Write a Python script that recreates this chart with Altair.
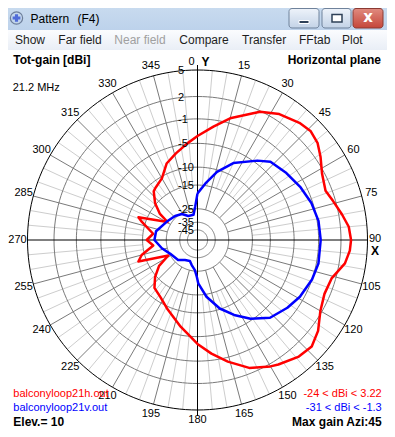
import math
import altair as alt
import pandas as pd

# ---------------- data ----------------
red_az = [0, 8, 15, 26, 33, 41, 46, 51, 56, 62, 69, 74, 80, 85, 90, 94, 99, 106, 113, 120,
          127, 133, 139, 147, 150, 158, 166, 173, 180, 191, 204, 213, 222, 229, 236, 242, 250,
          255, 263, 270, 278, 288, 291, 301, 305, 311, 318, 321, 330, 338, 346, 354]
red_db = [-3.7, -2.0, -0.3, 1.9, 2.8, 3.4, 3.6, 3.3, 2.6, 1.7, 1.2, 1.7, 2.4, 3.0, 3.2, 3.1,
          2.7, 1.5, 1.3, 1.8, 2.9, 3.5, 3.3, 2.6, 2.3, 1.3, -0.4, -2.0, -3.7, -6.6, -9.5,
          -11.2, -12.2, -14.6, -18.0, -24.0, -12.6, -14.1, -18.7, -16.4, -18.6, -13.9, -12.5,
          -23.0, -18.1, -14.6, -11.9, -11.5, -10.4, -7.8, -6.4, -4.9]

blue_az = [0, 8, 16, 25, 37, 43, 53, 63, 72, 81, 90, 101, 109, 119, 127, 137, 146, 154, 162,
           171, 179, 181, 185, 193, 200, 212, 224, 243, 257, 270, 282, 301, 317, 329, 339,
           351, 356]
blue_db = [-17.9, -14.3, -10.5, -7.3, -4.5, -3.2, -2.5, -1.8, -1.2, -0.8, -0.7, -0.7, -1.0,
           -1.6, -2.3, -3.3, -5.3, -7.6, -10.2, -14.2, -19.2, -22.0, -25.6, -28.4, -31.0,
           -29.9, -27.0, -25.4, -22.2, -19.3, -19.6, -22.6, -24.1, -25.5, -28.4, -28.6, -23.8]

ring_db = [5, 2, -1, -5, -10, -15, -25, -35, -45]
ring_text = ["5", "2", "-1", "-5", "-10", "-15", "-25", "-35", "-45"]
angle_ticks = list(range(0, 360, 15))

menu_items = ["Show", "Far field", "Near field", "Compare", "Transfer", "FFtab", "Plot"]
window_title = ["Pattern", "(F4)"]
red_file = "balconyloop21h.out"
blue_file = "balconyloop21v.out"
red_range = "-24 < dBi < 3.22"
blue_range = "-31 < dBi < -1.3"
head_left = "Tot-gain [dBi]"
head_right = "Horizontal plane"
freq_text = "21.2 MHz"
elev_text = "Elev.= 10"
maxgain_text = "Max gain Azi:45"

# ---------------- layout / scale ----------------
W, H = 379, 421
CX, CY, R = 189.5, 232.0, 170.0
TOP_DB = 5.0
K = 0.0565  # log-periodic radial scale


def rad(db):
    return math.exp(-K * (TOP_DB - db))


def pol(az, r):
    a = math.radians(az)
    return r * math.sin(a), r * math.cos(a)


xs = alt.Scale(domain=[-CX / R, (W - CX) / R], nice=False, zero=False)
ys = alt.Scale(domain=[-(H - CY) / R, CY / R], nice=False, zero=False)
X = alt.X("u:Q", scale=xs, axis=None)
Y = alt.Y("v:Q", scale=ys, axis=None)
FONT = "Liberation Sans"
ONE = pd.DataFrame({"k": [0]})

# ---------------- tables ----------------
def curve_df(azs, dbs):
    rows = []
    for i, (a, d) in enumerate(list(zip(azs, dbs)) + [(azs[0], dbs[0])]):
        u, v = pol(a, rad(d))
        rows.append({"i": i, "u": u, "v": v})
    return pd.DataFrame(rows)


red_df = curve_df(red_az, red_db)
blue_df = curve_df(blue_az, blue_db)

ring_rows = []
for d in ring_db[1:]:
    for j, a in enumerate(range(0, 362, 2)):
        u, v = pol(a, rad(d))
        ring_rows.append({"ring": str(d), "i": j, "u": u, "v": v})
ring_df = pd.DataFrame(ring_rows)
outer_rows = []
for j, a in enumerate(range(0, 362, 2)):
    u, v = pol(a, 1.0)
    outer_rows.append({"i": j, "u": u, "v": v})
outer_df = pd.DataFrame(outer_rows)

dark_rows, light_rows = [], []
for a in range(0, 360, 5):
    if a % 90 == 0:
        continue
    if a % 15 == 0:
        r0 = rad(-25)
        u, v = pol(a, r0)
        u2, v2 = pol(a, 1.0)
        dark_rows.append({"u": u, "v": v, "u2": u2, "v2": v2})
    else:
        r0 = rad(-15)
        u, v = pol(a, r0)
        u2, v2 = pol(a, 1.0)
        light_rows.append({"u": u, "v": v, "u2": u2, "v2": v2})
dark_df = pd.DataFrame(dark_rows)
light_df = pd.DataFrame(light_rows)
axes_df = pd.DataFrame([
    {"u": -1.0, "v": 0.0, "u2": 1.0, "v2": 0.0},
    {"u": 0.0, "v": -176 / R, "u2": 0.0, "v2": 175 / R},
])

ring_lab_df = pd.DataFrame({
    "u": [-19.5 / R] * len(ring_db),
    "v": [rad(d) for d in ring_db],
    "t": ring_text,
})

lab_rows = []
for a in angle_ticks:
    if a in (0, 90):
        continue
    u, v = pol(a, 180 / R)
    lab_rows.append({"u": u, "v": v, "t": str(a)})
ang_df = pd.DataFrame(lab_rows)
u0, v0 = pol(0, 178.3 / R)
zero_df = pd.DataFrame([{"u": u0, "v": v0}])
u9, v9 = pol(90, 177.5 / R)
ninety_df = pd.DataFrame([{"u": u9, "v": v9}])

# ---------------- layers ----------------
layers = []

# window chrome (title bar, buttons, menu bar)
title_grad = alt.Gradient(gradient="linear", x1=0, x2=0, y1=0, y2=1,
                          stops=[alt.GradientStop(color="#c9dbef", offset=0),
                                 alt.GradientStop(color="#bdd2eb", offset=1)])
layers.append(alt.Chart(ONE).mark_rect(fill=title_grad).encode(
    x=alt.value(-2), x2=alt.value(W + 2), y=alt.value(-2), y2=alt.value(22)))
menu_grad = alt.Gradient(gradient="linear", x1=0, x2=0, y1=0, y2=1,
                         stops=[alt.GradientStop(color="#fbfcfe", offset=0),
                                alt.GradientStop(color="#e9eef6", offset=1)])
layers.append(alt.Chart(ONE).mark_rect(fill=menu_grad).encode(
    x=alt.value(-2), x2=alt.value(W + 2), y=alt.value(22), y2=alt.value(42)))

btn_grad = alt.Gradient(gradient="linear", x1=0, x2=0, y1=0, y2=1,
                        stops=[alt.GradientStop(color="#eef3fa", offset=0),
                               alt.GradientStop(color="#c3d3e7", offset=1)])
close_grad = alt.Gradient(gradient="linear", x1=0, x2=0, y1=0, y2=1,
                          stops=[alt.GradientStop(color="#e08b7f", offset=0),
                                 alt.GradientStop(color="#c5463a", offset=1)])
for (xa, xb, g, sc) in [(281, 311, btn_grad, "#6f829b"), (314, 343, btn_grad, "#6f829b"),
                        (345, 375, close_grad, "#8a3a33")]:
    layers.append(alt.Chart(ONE).mark_rect(fill=g, stroke=sc, strokeWidth=1,
                                           cornerRadius=3).encode(
        x=alt.value(xa), x2=alt.value(xb), y=alt.value(0.5), y2=alt.value(20)))
layers.append(alt.Chart(ONE).mark_rect(fill="#2f4158", stroke="white", strokeWidth=1).encode(
    x=alt.value(291), x2=alt.value(301), y=alt.value(12.5), y2=alt.value(15.5)))
layers.append(alt.Chart(ONE).mark_rect(fill="white", stroke="#2f4158", strokeWidth=1.5).encode(
    x=alt.value(324), x2=alt.value(334), y=alt.value(6.5), y2=alt.value(14)))
layers.append(alt.Chart(ONE).mark_text(text="x", font="DejaVu Sans", fontWeight="bold",
                                       fontSize=15, color="white", align="center",
                                       baseline="middle").encode(
    x=alt.value(360), y=alt.value(8.5)))
# icon
layers.append(alt.Chart(ONE).mark_point(shape="circle", size=150, filled=False,
                                        color="#4a5a78", strokeWidth=1.2).encode(
    x=alt.value(8.5), y=alt.value(10)))
layers.append(alt.Chart(ONE).mark_point(shape="cross", size=60, filled=True,
                                        color="#1f3fd0").encode(
    x=alt.value(8.5), y=alt.value(10)))
layers.append(alt.Chart(ONE).mark_text(text=window_title[0], font=FONT, fontSize=12,
                                       align="left", baseline="middle",
                                       color="black").encode(
    x=alt.value(22.5), y=alt.value(11)))
layers.append(alt.Chart(ONE).mark_text(text=window_title[1], font=FONT, fontSize=12,
                                       align="left", baseline="middle",
                                       color="black").encode(
    x=alt.value(69.5), y=alt.value(11)))
menu_x = [7, 50.3, 106.3, 171.3, 234, 291, 334]
for name, mx in zip(menu_items, menu_x):
    col = "#a0a0a0" if name == "Near field" else "#1e1e1e"
    layers.append(alt.Chart(ONE).mark_text(text=name, font=FONT, fontSize=12, align="left",
                                           baseline="middle", color=col).encode(
        x=alt.value(mx), y=alt.value(32)))

# polar grid
layers.append(alt.Chart(light_df).mark_rule(color="#cdcdcd", strokeWidth=1).encode(
    x=X, y=Y, x2="u2:Q", y2="v2:Q"))
layers.append(alt.Chart(dark_df).mark_rule(color="#7a7a7a", strokeWidth=1).encode(
    x=X, y=Y, x2="u2:Q", y2="v2:Q"))
layers.append(alt.Chart(ring_df).mark_line(color="#7a7a7a", strokeWidth=1).encode(
    x=X, y=Y, detail="ring:N", order="i:Q"))
layers.append(alt.Chart(outer_df).mark_line(color="black", strokeWidth=1).encode(
    x=X, y=Y, order="i:Q"))
layers.append(alt.Chart(axes_df).mark_rule(color="black", strokeWidth=1).encode(
    x=X, y=Y, x2="u2:Q", y2="v2:Q"))

# pattern curves
layers.append(alt.Chart(red_df).mark_line(color="#ff0000", strokeWidth=2.5,
                                          strokeJoin="round").encode(
    x=X, y=Y, order="i:Q"))
layers.append(alt.Chart(blue_df).mark_line(color="#0000ff", strokeWidth=2.5,
                                           strokeJoin="round").encode(
    x=X, y=Y, order="i:Q"))

# grid labels
layers.append(alt.Chart(ring_lab_df).mark_text(font=FONT, fontSize=11, align="left",
                                               baseline="middle", dy=1,
                                               color="black").encode(
    x=X, y=Y, text="t:N"))
layers.append(alt.Chart(ang_df).mark_text(font=FONT, fontSize=11, align="center",
                                          baseline="middle", color="black").encode(
    x=X, y=Y, text="t:N"))
layers.append(alt.Chart(zero_df).mark_text(text="0", font=FONT, fontSize=11, align="center",
                                           baseline="middle", dx=-6).encode(x=X, y=Y))
layers.append(alt.Chart(zero_df).mark_text(text="Y", font=FONT, fontSize=12,
                                           fontWeight="bold", align="center",
                                           baseline="middle", dx=8).encode(x=X, y=Y))
layers.append(alt.Chart(ninety_df).mark_text(text="90", font=FONT, fontSize=11,
                                             align="center", baseline="middle",
                                             dy=-1).encode(x=X, y=Y))
layers.append(alt.Chart(ninety_df).mark_text(text="X", font=FONT, fontSize=12,
                                             fontWeight="bold", align="center",
                                             baseline="middle", dy=11).encode(x=X, y=Y))

# header / footer texts
def txt(s, x, y, align="left", color="black", bold=False, size=11):
    kw = dict(text=s, font=FONT, fontSize=size, align=align, baseline="middle", color=color)
    if bold:
        kw["fontWeight"] = "bold"
    return alt.Chart(ONE).mark_text(**kw).encode(x=alt.value(x), y=alt.value(y))


layers.append(txt(head_left, 5.3, 52, bold=True, size=12))
layers.append(txt(head_right, 373, 52, align="right", bold=True, size=12))
layers.append(txt(freq_text, 4.7, 79.7))
layers.append(txt(red_file, 5.3, 386.3, color="#ff0000"))
layers.append(txt(blue_file, 5.3, 399.7, color="#0000ff"))
layers.append(txt(elev_text, 5.3, 413.7, bold=True, size=12))
layers.append(txt(red_range, 373.7, 386.3, align="right", color="#ff0000"))
layers.append(txt(blue_range, 373.7, 399.7, align="right", color="#0000ff"))
layers.append(txt(maxgain_text, 373.7, 413.7, align="right", bold=True, size=12))

chart = alt.layer(*layers).properties(
    width=W, height=H, padding=0,
    autosize=alt.AutoSizeParams(type="none"),
    background="white",
).configure_view(strokeWidth=0)

chart.save("out.html", embed_options={"renderer": "svg", "actions": False})
